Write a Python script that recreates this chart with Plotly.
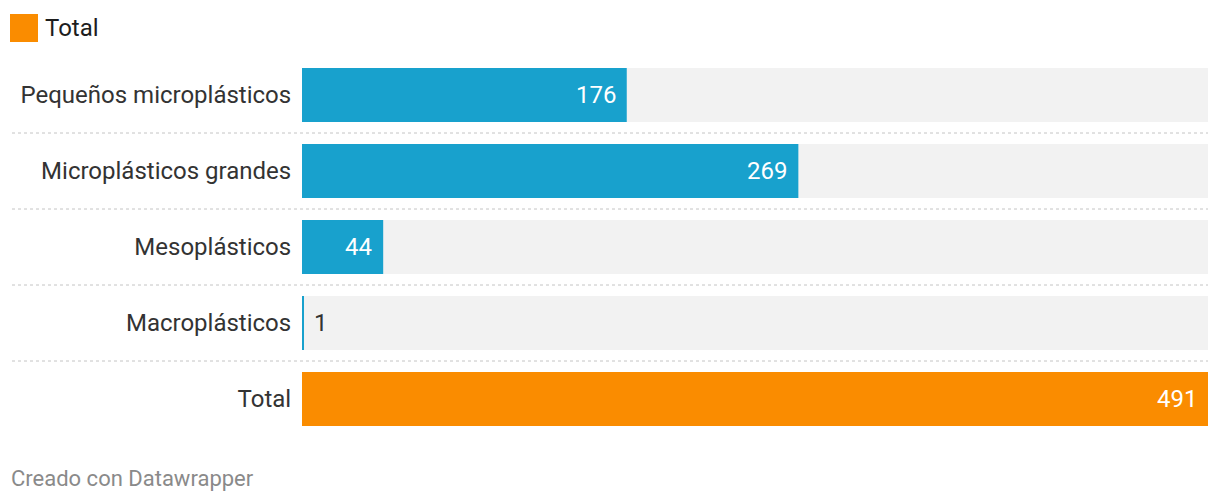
import plotly.graph_objects as go

categories = ["Pequeños microplásticos", "Microplásticos grandes", "Mesoplásticos", "Macroplásticos", "Total"]
values = [176, 269, 44, 1, 491]
bar_colors = ["#18a1cd", "#18a1cd", "#18a1cd", "#18a1cd", "#fa8c00"]
legend_label = "Total"
footer = "Creado con Datawrapper"

OFF = 8  # page body margin
W, H = 1220 - OFF, 504 - OFF
L = 302 - OFF
R = W - (1208 - OFF)
T = 57 - OFF
B = H - (437 - OFF)
pw, ph = W - L - R, H - T - B
xmax = max(values)
rows = list(range(len(categories)))

def px_x(px):
    return (px - OFF - L) / pw

def px_y(py):
    return (H - B - (py - OFF)) / ph

fig = go.Figure()
fig.add_trace(go.Bar(
    y=rows, x=[xmax] * len(rows), orientation="h",
    marker=dict(color="#f2f2f2", line=dict(width=0)),
    width=54 / 76, hoverinfo="skip", showlegend=False,
))
fig.add_trace(go.Bar(
    y=rows, x=values, orientation="h",
    marker=dict(color=bar_colors, line=dict(width=0)),
    width=54 / 76, showlegend=False,
))

annotations = []
for r, v in zip(rows, values):
    inside = v > 20
    annotations.append(dict(
        x=v, y=r, xref="x", yref="y", text=str(v), showarrow=False,
        xanchor="right" if inside else "left", xshift=-9 if inside else 8,
        font=dict(family="Roboto", size=24, color="#ffffff" if inside else "#333333"),
    ))

annotations.append(dict(
    x=px_x(43), y=px_y(28), xref="paper", yref="paper", text=legend_label,
    showarrow=False, xanchor="left", yanchor="middle",
    font=dict(family="Roboto", size=24, color="#1d1d1d"),
))
annotations.append(dict(
    x=px_x(9), y=px_y(478), xref="paper", yref="paper", text=footer,
    showarrow=False, xanchor="left", yanchor="middle",
    font=dict(family="Roboto", size=22, color="#8a8a8a"),
))

shapes = [dict(
    type="rect", xref="paper", yref="paper",
    x0=px_x(10), x1=px_x(38), y0=px_y(42), y1=px_y(14),
    fillcolor="#fa8c00", line=dict(width=0),
)]
for r in rows[:-1]:
    shapes.append(dict(
        type="line", xref="paper", yref="y",
        x0=px_x(12), x1=1, y0=r + 0.5, y1=r + 0.5,
        line=dict(color="#c4c4c4", width=1, dash="dot"),
    ))

fig.update_layout(
    width=W, height=H, barmode="overlay",
    margin=dict(l=L, r=R, t=T, b=B, pad=0, autoexpand=False),
    paper_bgcolor="white", plot_bgcolor="white",
    font=dict(family="Roboto", size=24, color="#333333"),
    xaxis=dict(range=[0, xmax], visible=False, fixedrange=True, automargin=False),
    yaxis=dict(
        range=[len(rows) - 0.5, -0.5], tickvals=rows, ticktext=categories,
        showgrid=False, zeroline=False, showline=False, automargin=False,
        ticks="outside", ticklen=5, tickcolor="rgba(0,0,0,0)",
        tickfont=dict(family="Roboto", size=24, color="#333333"),
        fixedrange=True,
    ),
    annotations=annotations, shapes=shapes, showlegend=False,
)

fig.write_html("out.html")
